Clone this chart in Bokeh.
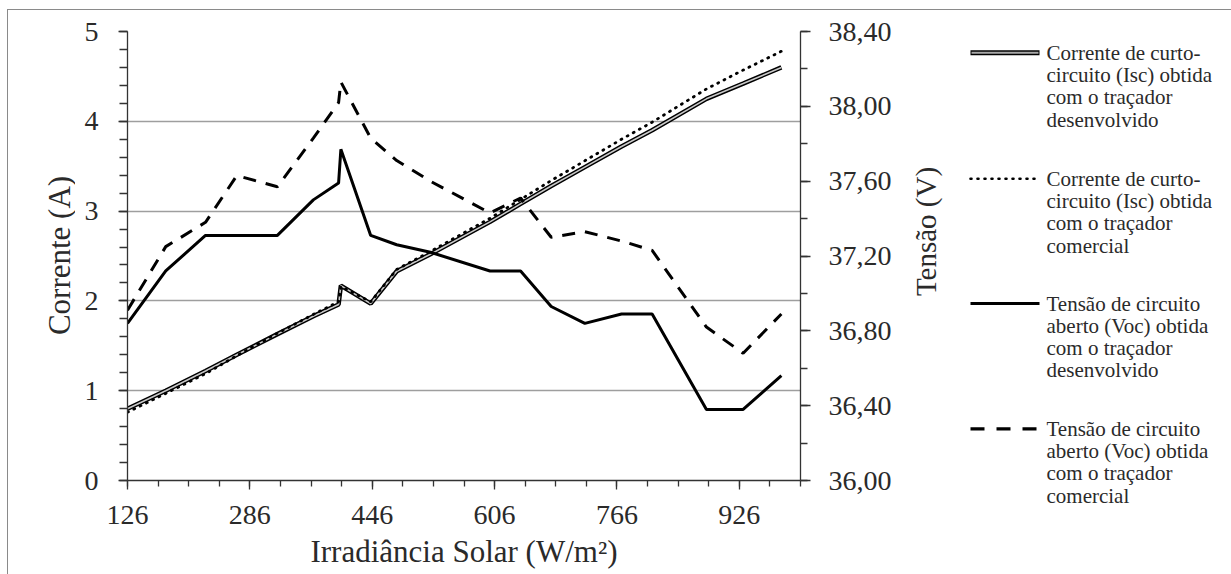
import math
from bokeh.plotting import figure
from bokeh.models import Range1d, LinearAxis, FixedTicker, CustomJSTickFormatter, Label
from bokeh.layouts import row
from bokeh.embed import file_html
from bokeh.resources import INLINE

FONT = "Liberation Serif, Times New Roman, DejaVu Serif, serif"
TXT = "#2a2a2a"
FRAME = "#8a8a8a"

# ---- data ----
irr = [126, 176, 228, 269, 322, 369, 402, 405, 444, 478, 522, 600, 640, 680, 724, 772, 812, 883, 931, 981]
isc_dev = [0.80, 1.00, 1.22, 1.40, 1.63, 1.83, 1.96, 2.17, 1.97, 2.33, 2.52, 2.88, 3.08, 3.28, 3.49, 3.72, 3.90, 4.25, 4.42, 4.60]
isc_com = [0.76, 0.97, 1.19, 1.39, 1.64, 1.85, 1.99, 2.16, 1.99, 2.35, 2.55, 2.92, 3.13, 3.34, 3.56, 3.80, 3.99, 4.36, 4.57, 4.78]
voc_dev = [36.84, 37.12, 37.31, 37.31, 37.31, 37.50, 37.59, 37.77, 37.31, 37.26, 37.22, 37.12, 37.12, 36.93, 36.84, 36.89, 36.89, 36.38, 36.38, 36.56]
voc_com = [36.91, 37.25, 37.38, 37.63, 37.57, 37.83, 38.02, 38.13, 37.83, 37.71, 37.60, 37.43, 37.51, 37.30, 37.33, 37.28, 37.23, 36.82, 36.68, 36.89]

x_major = [126, 286, 446, 606, 766, 926]
x_minor = list(range(126, 1007, 40))
i_major = [0, 1, 2, 3, 4, 5]
i_minor = [k / 5 for k in range(26)]
v_major = [36.0, 36.4, 36.8, 37.2, 37.6, 38.0, 38.4]
v_minor = [36.0 + k * 0.2 for k in range(13)]

legend_labels = [
    ["Corrente de curto-", "circuito (Isc) obtida", "com o traçador", "desenvolvido"],
    ["Corrente de curto-", "circuito (Isc) obtida", "com o traçador", "comercial"],
    ["Tensão de circuito", "aberto (Voc) obtida", "com o traçador", "desenvolvido"],
    ["Tensão de circuito", "aberto (Voc) obtida", "com o traçador", "comercial"],
]

grad = "linear-gradient(%s,%s)" % (FRAME, FRAME)
H = 574

def Y(py):
    return H - py

def side_panel(x0, w, bg):
    f = figure(width=w, height=H, x_range=Range1d(x0, x0 + w), y_range=Range1d(0, H),
               x_axis_type=None, y_axis_type=None, output_backend="svg", toolbar_location=None,
               min_border=0, min_border_left=0, min_border_right=0, min_border_top=0,
               min_border_bottom=0)
    if "frame_align" in f.properties():
        f.frame_align = False
    f.styles = {"background": bg}
    f.outline_line_color = None
    f.background_fill_color = None
    f.border_fill_color = None
    return f

# ---- left strip: outer frame corner + left axis title (page x 0..75) ----
L0 = 75
q0 = side_panel(0, L0, "%s 7px 9px / 1px 100%% no-repeat, %s 7px 9px / 100%% 1px no-repeat, white"
                % (grad, grad))
q0.add_layout(Label(x=58.5, y=Y(255), text="Corrente (A)", angle=math.pi / 2,
                    text_font=FONT, text_font_size="31px", text_color=TXT,
                    text_align="center", text_baseline="middle"))

# ---- main chart (page x 75..905) ----
p = figure(width=905 - L0, height=H, x_range=Range1d(126, 1006), y_range=Range1d(0, 5),
           output_backend="svg", toolbar_location=None,
           min_border_left=127 - L0, min_border_right=105, min_border_top=31, min_border_bottom=94)
p.styles = {"background": "%s 0px 9px / 100%% 1px no-repeat, white" % grad}
p.extra_y_ranges = {"v": Range1d(36, 38.4)}
p.outline_line_color = None
p.background_fill_color = "white"
p.border_fill_color = None

p.xgrid.visible = False
p.ygrid.ticker = FixedTicker(ticks=i_major)
p.ygrid.grid_line_color = "#9e9e9e"
p.ygrid.grid_line_width = 1.3

rax = LinearAxis(y_range_name="v")
p.add_layout(rax, "right")

def style(ax, tick_out, minor_out):
    ax.axis_line_color = "#333333"
    ax.axis_line_width = 1.3
    ax.major_tick_line_color = "#333333"
    ax.minor_tick_line_color = "#333333"
    ax.major_tick_line_width = 1.3
    ax.minor_tick_line_width = 1.3
    ax.major_tick_in = 0
    ax.minor_tick_in = 0
    ax.major_tick_out = tick_out
    ax.minor_tick_out = minor_out
    ax.major_label_text_font = FONT
    ax.major_label_text_font_size = "28px"
    ax.major_label_text_color = TXT
    ax.axis_label_text_font = FONT
    ax.axis_label_text_font_size = "31px"
    ax.axis_label_text_font_style = "normal"
    ax.axis_label_text_color = TXT

xa = p.xaxis[0]
xa.ticker = FixedTicker(ticks=x_major, minor_ticks=x_minor)
style(xa, 9, 6)
xa.major_label_standoff = 16
xa.axis_label = "Irradiância Solar (W/m²)"
xa.axis_label_standoff = 7

ya = p.yaxis[0]
ya.ticker = FixedTicker(ticks=i_major, minor_ticks=i_minor)
style(ya, 9, 8)
ya.major_label_standoff = 20

rax.ticker = FixedTicker(ticks=v_major, minor_ticks=v_minor)
style(rax, 10, 7)
rax.major_label_standoff = 18
rax.formatter = CustomJSTickFormatter(code="return tick.toFixed(2).replace('.', ',');")

# ---- series ----
p.line(irr, isc_dev, line_color="black", line_width=4.5)
p.line(irr, isc_dev, line_color="#c8c8c8", line_width=1.6)
p.line(irr, isc_com, line_color="black", line_width=2.8, line_dash="1 6", line_cap="round")
p.line(irr, voc_dev, y_range_name="v", line_color="black", line_width=3)
p.line(irr, voc_com, y_range_name="v", line_color="black", line_width=3, line_dash="13 10")

# ---- right strip: right axis title + legend (page x 905..1231) ----
X0 = 905
q = side_panel(X0, 1231 - X0, "%s 0px 9px / 100%% 1px no-repeat, white" % grad)

q.add_layout(Label(x=925, y=Y(231), text="Tensão (V)", angle=math.pi / 2,
                   text_font=FONT, text_font_size="29px", text_color=TXT,
                   text_align="center", text_baseline="middle"))

item_y = [52.3, 178.3, 303.0, 428.3]
lx0, lx1, tx = 970, 1039, 1046
line_gap = 22.3

q.line([lx0, lx1], [Y(item_y[0])] * 2, line_color="black", line_width=5)
q.line([lx0 + 1, lx1 - 1], [Y(item_y[0])] * 2, line_color="#a8a8a8", line_width=2)
q.line([lx0, lx1], [Y(item_y[1])] * 2, line_color="black", line_width=2.6, line_dash="1 6", line_cap="round")
q.line([lx0, lx1], [Y(item_y[2])] * 2, line_color="black", line_width=3)
q.line([lx0, lx1], [Y(item_y[3])] * 2, line_color="black", line_width=3.2, line_dash="14 12")

for k, lines in enumerate(legend_labels):
    for j, t in enumerate(lines):
        q.add_layout(Label(x=tx, y=Y(item_y[k] + j * line_gap), text=t,
                           text_font=FONT, text_font_size="21px", text_color=TXT,
                           text_align="left", text_baseline="middle"))

layout = row(q0, p, q, spacing=0)

open("out.html", "w").write(file_html(layout, INLINE))
